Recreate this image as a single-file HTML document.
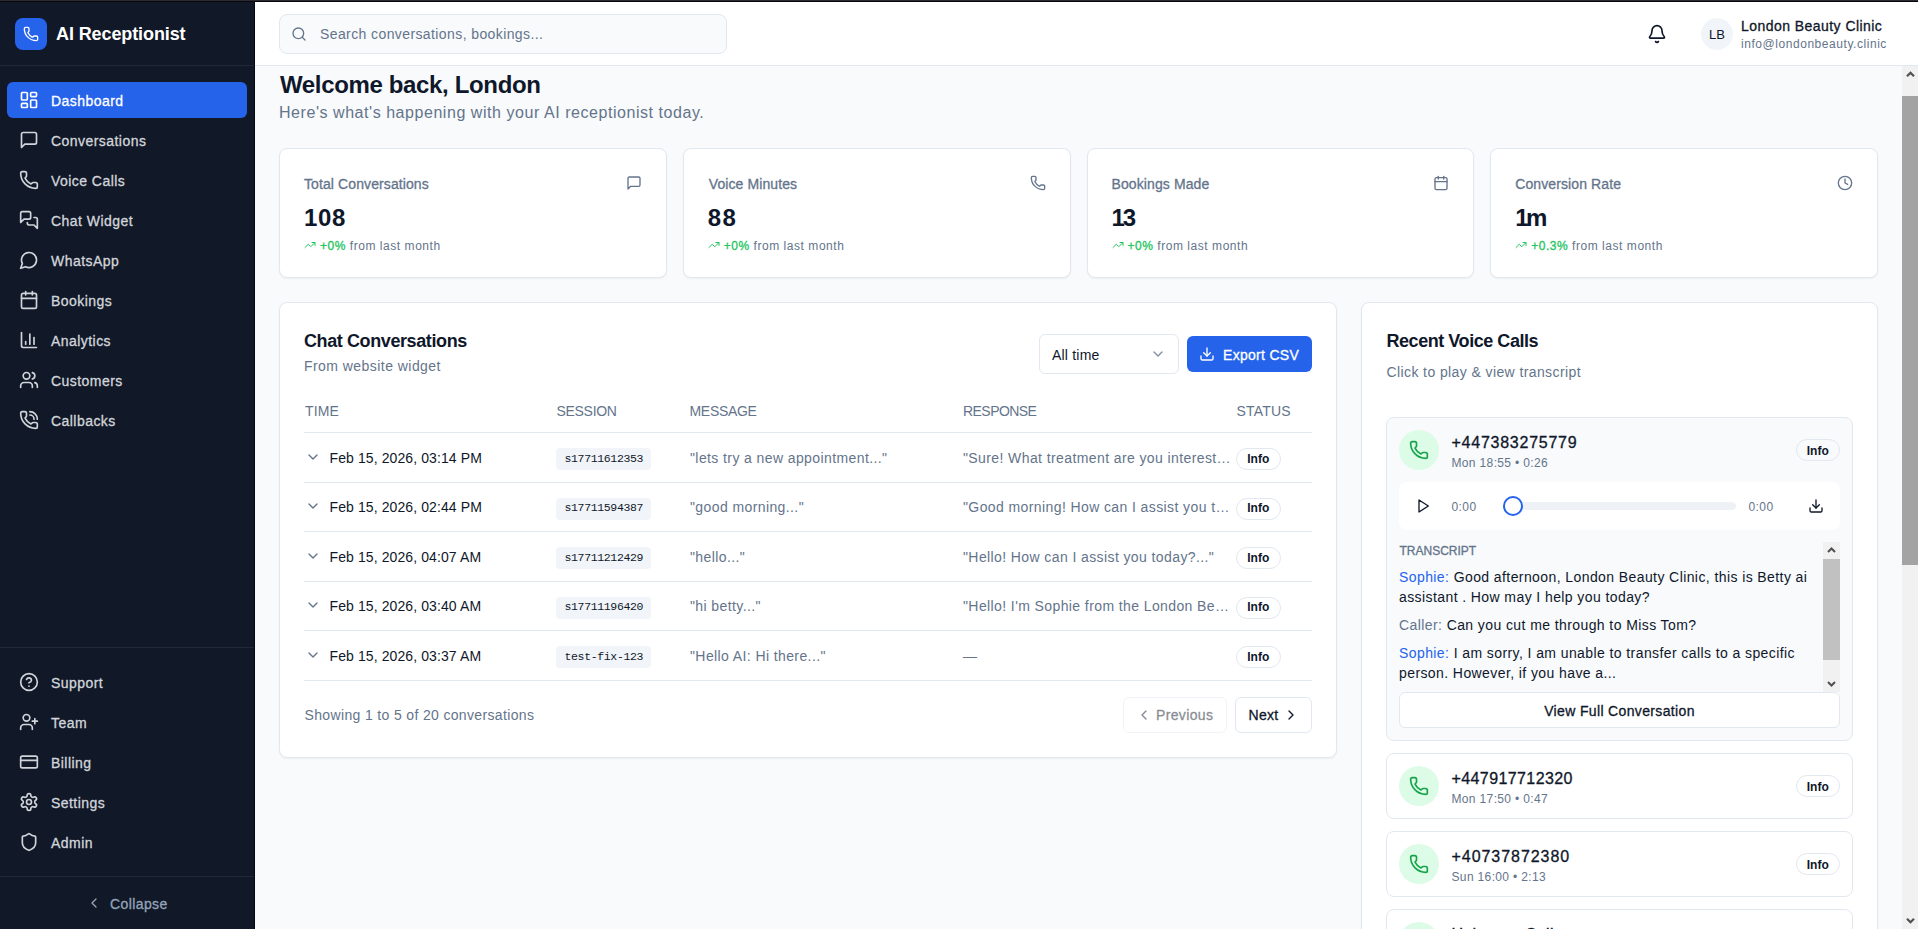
<!DOCTYPE html>
<html><head><meta charset="utf-8"><style>
*{box-sizing:border-box;margin:0;padding:0}
html,body{width:1918px;height:929px;overflow:hidden}
body{position:relative;background:#f8fafc;font-family:"Liberation Sans",sans-serif;color:#0f172a}
.abs{position:absolute}
.t{white-space:pre}
svg{display:block}
.ic{fill:none;stroke:currentColor;stroke-linecap:round;stroke-linejoin:round}
.box{position:absolute}
.m{-webkit-text-stroke-width:0.3px}
</style></head><body>
<div class="abs" style="left:0;top:0;width:1918px;height:1px;background:#2d2a35"></div>
<div class="abs" style="left:0;top:1px;width:1918px;height:1px;background:#070709"></div>
<div class="abs" style="left:0;top:2px;width:254px;height:927px;background:#111827"></div>
<div class="abs" style="left:254px;top:2px;width:1px;height:927px;background:#030712"></div>
<div class="abs" style="left:255px;top:2px;width:1663px;height:63px;background:#fff"></div>
<div class="abs" style="left:255px;top:65px;width:1663px;height:1px;background:#e2e8f0"></div>
<div class="abs" style="left:15px;top:18px;width:32px;height:32px;border-radius:8px;background:#2563eb"></div>
<svg class="abs ic" style="left:23px;top:26px;color:#fff" width="16" height="16" viewBox="0 0 24 24" stroke-width="2"><path d="M13.832 16.568a1 1 0 0 0 1.213-.303l.355-.465A2 2 0 0 1 17 15h3a2 2 0 0 1 2 2v3a2 2 0 0 1-2 2A18 18 0 0 1 2 4a2 2 0 0 1 2-2h3a2 2 0 0 1 2 2v3a2 2 0 0 1-.8 1.6l-.468.351a1 1 0 0 0-.292 1.233 14 14 0 0 0 6.392 6.384"/></svg>
<div class="abs t " style="left:56px;top:20px;font-size:18px;line-height:28px;color:#fff;font-weight:700;letter-spacing:-0.1px;">AI Receptionist</div>
<div class="abs" style="left:0;top:65px;width:254px;height:1px;background:#1f2937"></div>
<div class="abs" style="left:7px;top:82px;width:240px;height:36px;border-radius:6px;background:#2563eb"></div>
<svg class="abs ic" style="left:19px;top:90px;color:#ffffff" width="20" height="20" viewBox="0 0 24 24" stroke-width="2"><rect width="7" height="9" x="3" y="3" rx="1"/><rect width="7" height="5" x="14" y="3" rx="1"/><rect width="7" height="9" x="14" y="12" rx="1"/><rect width="7" height="5" x="3" y="16" rx="1"/></svg>
<div class="abs t m" style="left:51px;top:91px;font-size:14px;line-height:20px;color:#ffffff;font-weight:400;letter-spacing:0.45px;">Dashboard</div>
<svg class="abs ic" style="left:19px;top:130px;color:#d1d5db" width="20" height="20" viewBox="0 0 24 24" stroke-width="2"><path d="M21 15a2 2 0 0 1-2 2H7l-4 4V5a2 2 0 0 1 2-2h14a2 2 0 0 1 2 2z"/></svg>
<div class="abs t m" style="left:51px;top:131px;font-size:14px;line-height:20px;color:#d1d5db;font-weight:400;letter-spacing:0.45px;">Conversations</div>
<svg class="abs ic" style="left:19px;top:170px;color:#d1d5db" width="20" height="20" viewBox="0 0 24 24" stroke-width="2"><path d="M13.832 16.568a1 1 0 0 0 1.213-.303l.355-.465A2 2 0 0 1 17 15h3a2 2 0 0 1 2 2v3a2 2 0 0 1-2 2A18 18 0 0 1 2 4a2 2 0 0 1 2-2h3a2 2 0 0 1 2 2v3a2 2 0 0 1-.8 1.6l-.468.351a1 1 0 0 0-.292 1.233 14 14 0 0 0 6.392 6.384"/></svg>
<div class="abs t m" style="left:51px;top:171px;font-size:14px;line-height:20px;color:#d1d5db;font-weight:400;letter-spacing:0.45px;">Voice Calls</div>
<svg class="abs ic" style="left:19px;top:210px;color:#d1d5db" width="20" height="20" viewBox="0 0 24 24" stroke-width="2"><path d="M14 9a2 2 0 0 1-2 2H6l-4 4V4a2 2 0 0 1 2-2h8a2 2 0 0 1 2 2z"/><path d="M18 9h2a2 2 0 0 1 2 2v11l-4-4h-6a2 2 0 0 1-2-2v-1"/></svg>
<div class="abs t m" style="left:51px;top:211px;font-size:14px;line-height:20px;color:#d1d5db;font-weight:400;letter-spacing:0.45px;">Chat Widget</div>
<svg class="abs ic" style="left:19px;top:250px;color:#d1d5db" width="20" height="20" viewBox="0 0 24 24" stroke-width="2"><path d="M7.9 20A9 9 0 1 0 4 16.1L2 22Z"/></svg>
<div class="abs t m" style="left:51px;top:251px;font-size:14px;line-height:20px;color:#d1d5db;font-weight:400;letter-spacing:0.45px;">WhatsApp</div>
<svg class="abs ic" style="left:19px;top:290px;color:#d1d5db" width="20" height="20" viewBox="0 0 24 24" stroke-width="2"><path d="M8 2v4"/><path d="M16 2v4"/><rect width="18" height="18" x="3" y="4" rx="2"/><path d="M3 10h18"/></svg>
<div class="abs t m" style="left:51px;top:291px;font-size:14px;line-height:20px;color:#d1d5db;font-weight:400;letter-spacing:0.45px;">Bookings</div>
<svg class="abs ic" style="left:19px;top:330px;color:#d1d5db" width="20" height="20" viewBox="0 0 24 24" stroke-width="2"><path d="M3 3v16a2 2 0 0 0 2 2h16"/><path d="M18 17V9"/><path d="M13 17V5"/><path d="M8 17v-3"/></svg>
<div class="abs t m" style="left:51px;top:331px;font-size:14px;line-height:20px;color:#d1d5db;font-weight:400;letter-spacing:0.45px;">Analytics</div>
<svg class="abs ic" style="left:19px;top:370px;color:#d1d5db" width="20" height="20" viewBox="0 0 24 24" stroke-width="2"><path d="M16 21v-2a4 4 0 0 0-4-4H6a4 4 0 0 0-4 4v2"/><circle cx="9" cy="7" r="4"/><path d="M22 21v-2a4 4 0 0 0-3-3.87"/><path d="M16 3.13a4 4 0 0 1 0 7.75"/></svg>
<div class="abs t m" style="left:51px;top:371px;font-size:14px;line-height:20px;color:#d1d5db;font-weight:400;letter-spacing:0.45px;">Customers</div>
<svg class="abs ic" style="left:19px;top:410px;color:#d1d5db" width="20" height="20" viewBox="0 0 24 24" stroke-width="2"><path d="M13 2a9 9 0 0 1 9 9"/><path d="M13 6a5 5 0 0 1 5 5"/><path d="M13.832 16.568a1 1 0 0 0 1.213-.303l.355-.465A2 2 0 0 1 17 15h3a2 2 0 0 1 2 2v3a2 2 0 0 1-2 2A18 18 0 0 1 2 4a2 2 0 0 1 2-2h3a2 2 0 0 1 2 2v3a2 2 0 0 1-.8 1.6l-.468.351a1 1 0 0 0-.292 1.233 14 14 0 0 0 6.392 6.384"/></svg>
<div class="abs t m" style="left:51px;top:411px;font-size:14px;line-height:20px;color:#d1d5db;font-weight:400;letter-spacing:0.45px;">Callbacks</div>
<div class="abs" style="left:0;top:647px;width:254px;height:1px;background:#1f2937"></div>
<svg class="abs ic" style="left:19px;top:672px;color:#d1d5db" width="20" height="20" viewBox="0 0 24 24" stroke-width="2"><circle cx="12" cy="12" r="10"/><path d="M9.09 9a3 3 0 0 1 5.83 1c0 2-3 3-3 3"/><path d="M12 17h.01"/></svg>
<div class="abs t m" style="left:51px;top:673px;font-size:14px;line-height:20px;color:#d1d5db;font-weight:400;letter-spacing:0.45px;">Support</div>
<svg class="abs ic" style="left:19px;top:712px;color:#d1d5db" width="20" height="20" viewBox="0 0 24 24" stroke-width="2"><path d="M16 21v-2a4 4 0 0 0-4-4H6a4 4 0 0 0-4 4v2"/><circle cx="9" cy="7" r="4"/><line x1="19" x2="19" y1="8" y2="14"/><line x1="22" x2="16" y1="11" y2="11"/></svg>
<div class="abs t m" style="left:51px;top:713px;font-size:14px;line-height:20px;color:#d1d5db;font-weight:400;letter-spacing:0.45px;">Team</div>
<svg class="abs ic" style="left:19px;top:752px;color:#d1d5db" width="20" height="20" viewBox="0 0 24 24" stroke-width="2"><rect width="20" height="14" x="2" y="5" rx="2"/><line x1="2" x2="22" y1="10" y2="10"/></svg>
<div class="abs t m" style="left:51px;top:753px;font-size:14px;line-height:20px;color:#d1d5db;font-weight:400;letter-spacing:0.45px;">Billing</div>
<svg class="abs ic" style="left:19px;top:792px;color:#d1d5db" width="20" height="20" viewBox="0 0 24 24" stroke-width="2"><path d="M12.22 2h-.44a2 2 0 0 0-2 2v.18a2 2 0 0 1-1 1.73l-.43.25a2 2 0 0 1-2 0l-.15-.08a2 2 0 0 0-2.73.73l-.22.38a2 2 0 0 0 .73 2.73l.15.1a2 2 0 0 1 1 1.72v.51a2 2 0 0 1-1 1.74l-.15.09a2 2 0 0 0-.73 2.73l.22.38a2 2 0 0 0 2.73.73l.15-.08a2 2 0 0 1 2 0l.43.25a2 2 0 0 1 1 1.73V20a2 2 0 0 0 2 2h.44a2 2 0 0 0 2-2v-.18a2 2 0 0 1 1-1.73l.43-.25a2 2 0 0 1 2 0l.15.08a2 2 0 0 0 2.73-.73l.22-.39a2 2 0 0 0-.73-2.73l-.15-.08a2 2 0 0 1-1-1.74v-.5a2 2 0 0 1 1-1.74l.15-.09a2 2 0 0 0 .73-2.73l-.22-.38a2 2 0 0 0-2.73-.73l-.15.08a2 2 0 0 1-2 0l-.43-.25a2 2 0 0 1-1-1.73V4a2 2 0 0 0-2-2z"/><circle cx="12" cy="12" r="3"/></svg>
<div class="abs t m" style="left:51px;top:793px;font-size:14px;line-height:20px;color:#d1d5db;font-weight:400;letter-spacing:0.45px;">Settings</div>
<svg class="abs ic" style="left:19px;top:832px;color:#d1d5db" width="20" height="20" viewBox="0 0 24 24" stroke-width="2"><path d="M20 13c0 5-3.5 7.5-7.66 8.95a1 1 0 0 1-.67-.01C7.5 20.5 4 18 4 13V6a1 1 0 0 1 1-1c2 0 4.5-1.2 6.24-2.72a1.17 1.17 0 0 1 1.52 0C14.51 3.81 17 5 19 5a1 1 0 0 1 1 1z"/></svg>
<div class="abs t m" style="left:51px;top:833px;font-size:14px;line-height:20px;color:#d1d5db;font-weight:400;letter-spacing:0.45px;">Admin</div>
<div class="abs" style="left:0;top:876px;width:254px;height:1px;background:#1f2937"></div>
<svg class="abs ic" style="left:86px;top:895px;color:#94a3b8" width="16" height="16" viewBox="0 0 24 24" stroke-width="2"><path d="m15 18-6-6 6-6"/></svg>
<div class="abs t m" style="left:110px;top:894px;font-size:14px;line-height:20px;color:#94a3b8;font-weight:400;letter-spacing:0.4px;">Collapse</div>
<div class="abs" style="left:279px;top:14px;width:448px;height:40px;border-radius:8px;background:#f8fafc;border:1px solid #e2e8f0"></div>
<svg class="abs ic" style="left:291px;top:26px;color:#64748b" width="16" height="16" viewBox="0 0 24 24" stroke-width="2"><circle cx="11" cy="11" r="8"/><path d="m21 21-4.3-4.3"/></svg>
<div class="abs t " style="left:320px;top:24px;font-size:14px;line-height:20px;color:#64748b;font-weight:400;letter-spacing:0.4px;">Search conversations, bookings...</div>
<svg class="abs ic" style="left:1647px;top:24px;color:#0f172a" width="20" height="20" viewBox="0 0 24 24" stroke-width="2"><path d="M10.268 21a2 2 0 0 0 3.464 0"/><path d="M3.262 15.326A1 1 0 0 0 4 17h16a1 1 0 0 0 .74-1.673C19.41 13.956 18 12.499 18 8A6 6 0 0 0 6 8c0 4.499-1.411 5.956-2.738 7.326"/></svg>
<div class="abs" style="left:1701px;top:18px;width:32px;height:32px;border-radius:50%;background:#f1f5f9"></div>
<div class="abs t " style="left:1701px;top:25px;font-size:13px;line-height:20px;color:#0f172a;font-weight:400;letter-spacing:0px;width:32px;text-align:center">LB</div>
<div class="abs t m" style="left:1741px;top:16px;font-size:14px;line-height:20px;color:#0f172a;font-weight:400;letter-spacing:0.45px;">London Beauty Clinic</div>
<div class="abs t " style="left:1741px;top:36px;font-size:12px;line-height:16px;color:#64748b;font-weight:400;letter-spacing:0.55px;">info@londonbeauty.clinic</div>
<div class="abs t " style="left:280px;top:69px;font-size:24px;line-height:32px;color:#0f172a;font-weight:700;letter-spacing:-0.35px;">Welcome back, London</div>
<div class="abs t " style="left:279px;top:101px;font-size:16px;line-height:24px;color:#64748b;font-weight:400;letter-spacing:0.55px;">Here's what's happening with your AI receptionist today.</div>
<div class="abs" style="left:279.0px;top:148px;width:387.75px;height:130px;background:#fff;border:1px solid #e2e8f0;border-radius:8px;box-shadow:0 1px 2px rgba(0,0,0,0.05)"></div>
<div class="abs t m" style="left:304.0px;top:174px;font-size:14px;line-height:20px;color:#64748b;font-weight:400;letter-spacing:0.1px;">Total Conversations</div>
<svg class="abs ic" style="left:625.75px;top:175px;color:#64748b" width="16" height="16" viewBox="0 0 24 24" stroke-width="2"><path d="M21 15a2 2 0 0 1-2 2H7l-4 4V5a2 2 0 0 1 2-2h14a2 2 0 0 1 2 2z"/></svg>
<div class="abs t " style="left:304.0px;top:202px;font-size:24px;line-height:32px;color:#0f172a;font-weight:700;letter-spacing:0.7px;">108</div>
<svg class="abs ic" style="left:304.0px;top:239px;color:#22c55e" width="12" height="12" viewBox="0 0 24 24" stroke-width="2"><polyline points="22 7 13.5 15.5 8.5 10.5 2 17"/><polyline points="16 7 22 7 22 13"/></svg>
<div class="abs t" style="left:320.0px;top:238px;font-size:12px;line-height:16px;color:#64748b;letter-spacing:0.55px"><span class="m" style="color:#22c55e;letter-spacing:0.5px">+0%</span> from last month</div>
<div class="abs" style="left:682.75px;top:148px;width:387.75px;height:130px;background:#fff;border:1px solid #e2e8f0;border-radius:8px;box-shadow:0 1px 2px rgba(0,0,0,0.05)"></div>
<div class="abs t m" style="left:708.75px;top:174px;font-size:14px;line-height:20px;color:#64748b;font-weight:400;letter-spacing:0.1px;">Voice Minutes</div>
<svg class="abs ic" style="left:1029.5px;top:175px;color:#64748b" width="16" height="16" viewBox="0 0 24 24" stroke-width="2"><path d="M13.832 16.568a1 1 0 0 0 1.213-.303l.355-.465A2 2 0 0 1 17 15h3a2 2 0 0 1 2 2v3a2 2 0 0 1-2 2A18 18 0 0 1 2 4a2 2 0 0 1 2-2h3a2 2 0 0 1 2 2v3a2 2 0 0 1-.8 1.6l-.468.351a1 1 0 0 0-.292 1.233 14 14 0 0 0 6.392 6.384"/></svg>
<div class="abs t " style="left:707.75px;top:202px;font-size:24px;line-height:32px;color:#0f172a;font-weight:700;letter-spacing:1.5px;">88</div>
<svg class="abs ic" style="left:707.75px;top:239px;color:#22c55e" width="12" height="12" viewBox="0 0 24 24" stroke-width="2"><polyline points="22 7 13.5 15.5 8.5 10.5 2 17"/><polyline points="16 7 22 7 22 13"/></svg>
<div class="abs t" style="left:723.75px;top:238px;font-size:12px;line-height:16px;color:#64748b;letter-spacing:0.55px"><span class="m" style="color:#22c55e;letter-spacing:0.5px">+0%</span> from last month</div>
<div class="abs" style="left:1086.5px;top:148px;width:387.75px;height:130px;background:#fff;border:1px solid #e2e8f0;border-radius:8px;box-shadow:0 1px 2px rgba(0,0,0,0.05)"></div>
<div class="abs t m" style="left:1111.5px;top:174px;font-size:14px;line-height:20px;color:#64748b;font-weight:400;letter-spacing:0.1px;">Bookings Made</div>
<svg class="abs ic" style="left:1433.25px;top:175px;color:#64748b" width="16" height="16" viewBox="0 0 24 24" stroke-width="2"><path d="M8 2v4"/><path d="M16 2v4"/><rect width="18" height="18" x="3" y="4" rx="2"/><path d="M3 10h18"/></svg>
<div class="abs t " style="left:1111.5px;top:202px;font-size:24px;line-height:32px;color:#0f172a;font-weight:700;letter-spacing:-2px;">13</div>
<svg class="abs ic" style="left:1111.5px;top:239px;color:#22c55e" width="12" height="12" viewBox="0 0 24 24" stroke-width="2"><polyline points="22 7 13.5 15.5 8.5 10.5 2 17"/><polyline points="16 7 22 7 22 13"/></svg>
<div class="abs t" style="left:1127.5px;top:238px;font-size:12px;line-height:16px;color:#64748b;letter-spacing:0.55px"><span class="m" style="color:#22c55e;letter-spacing:0.5px">+0%</span> from last month</div>
<div class="abs" style="left:1490.25px;top:148px;width:387.75px;height:130px;background:#fff;border:1px solid #e2e8f0;border-radius:8px;box-shadow:0 1px 2px rgba(0,0,0,0.05)"></div>
<div class="abs t m" style="left:1515.25px;top:174px;font-size:14px;line-height:20px;color:#64748b;font-weight:400;letter-spacing:0.1px;">Conversion Rate</div>
<svg class="abs ic" style="left:1837.0px;top:175px;color:#64748b" width="16" height="16" viewBox="0 0 24 24" stroke-width="2"><circle cx="12" cy="12" r="10"/><polyline points="12 6 12 12 16 14"/></svg>
<div class="abs t " style="left:1515.25px;top:202px;font-size:24px;line-height:32px;color:#0f172a;font-weight:700;letter-spacing:-2.5px;">1m</div>
<svg class="abs ic" style="left:1515.25px;top:239px;color:#22c55e" width="12" height="12" viewBox="0 0 24 24" stroke-width="2"><polyline points="22 7 13.5 15.5 8.5 10.5 2 17"/><polyline points="16 7 22 7 22 13"/></svg>
<div class="abs t" style="left:1531.25px;top:238px;font-size:12px;line-height:16px;color:#64748b;letter-spacing:0.55px"><span class="m" style="color:#22c55e;letter-spacing:0.5px">+0.3%</span> from last month</div>
<div class="abs" style="left:279px;top:302px;width:1058px;height:456px;background:#fff;border:1px solid #e2e8f0;border-radius:8px;box-shadow:0 1px 2px rgba(0,0,0,0.05)"></div>
<div class="abs t " style="left:304px;top:327px;font-size:18px;line-height:28px;color:#0f172a;font-weight:700;letter-spacing:-0.4px;">Chat Conversations</div>
<div class="abs t " style="left:304px;top:356px;font-size:14px;line-height:20px;color:#64748b;font-weight:400;letter-spacing:0.45px;">From website widget</div>
<div class="abs" style="left:1039px;top:334px;width:140px;height:40px;background:#fff;border:1px solid #e2e8f0;border-radius:6px"></div>
<div class="abs t " style="left:1052px;top:345px;font-size:14px;line-height:20px;color:#0f172a;font-weight:400;letter-spacing:0.2px;">All time</div>
<svg class="abs ic" style="left:1150px;top:346px;color:#64748b;opacity:0.8" width="16" height="16" viewBox="0 0 24 24" stroke-width="2"><path d="m6 9 6 6 6-6"/></svg>
<div class="abs" style="left:1187px;top:336px;width:125px;height:36px;background:#2563eb;border-radius:6px"></div>
<svg class="abs ic" style="left:1199px;top:346px;color:#fff" width="16" height="16" viewBox="0 0 24 24" stroke-width="2"><path d="M21 15v4a2 2 0 0 1-2 2H5a2 2 0 0 1-2-2v-4"/><polyline points="7 10 12 15 17 10"/><line x1="12" x2="12" y1="15" y2="3"/></svg>
<div class="abs t m" style="left:1223px;top:345px;font-size:14px;line-height:20px;color:#fff;font-weight:400;letter-spacing:0.3px;">Export CSV</div>
<div class="abs t " style="left:305px;top:400.5px;font-size:14px;line-height:20px;color:#64748b;font-weight:400;letter-spacing:0.15px;">TIME</div>
<div class="abs t " style="left:556.5px;top:400.5px;font-size:14px;line-height:20px;color:#64748b;font-weight:400;letter-spacing:-0.3px;">SESSION</div>
<div class="abs t " style="left:689.5px;top:400.5px;font-size:14px;line-height:20px;color:#64748b;font-weight:400;letter-spacing:-0.3px;">MESSAGE</div>
<div class="abs t " style="left:963px;top:400.5px;font-size:14px;line-height:20px;color:#64748b;font-weight:400;letter-spacing:-0.55px;">RESPONSE</div>
<div class="abs t " style="left:1236.5px;top:400.5px;font-size:14px;line-height:20px;color:#64748b;font-weight:400;letter-spacing:0.2px;">STATUS</div>
<div class="abs" style="left:304px;top:432px;width:1008px;height:1px;background:#e2e8f0"></div>
<svg class="abs ic" style="left:305px;top:448.5px;color:#64748b" width="16" height="16" viewBox="0 0 24 24" stroke-width="2"><path d="m6 9 6 6 6-6"/></svg>
<div class="abs t " style="left:329.5px;top:448px;font-size:14px;line-height:20px;color:#0f172a;font-weight:400;letter-spacing:0.1px;">Feb 15, 2026, 03:14 PM</div>
<div class="abs" style="left:556px;top:448.0px;width:95px;height:22px;background:#f1f5f9;border-radius:4px"></div>
<div class="abs t " style="left:564.5px;top:451px;font-size:11.5px;line-height:16px;color:#0f172a;font-weight:400;letter-spacing:0px;font-family:'Liberation Mono',monospace;letter-spacing:-0.35px">s17711612353</div>
<div class="abs t " style="left:690px;top:448px;font-size:14px;line-height:20px;color:#64748b;font-weight:400;letter-spacing:0.4px;">"lets try a new appointment..."</div>
<div class="abs t " style="left:963px;top:448px;font-size:14px;line-height:20px;color:#64748b;font-weight:400;letter-spacing:0.4px;">"Sure! What treatment are you interest…</div>
<div class="abs" style="left:1236px;top:448.0px;width:44.5px;height:22px;background:#fff;border:1px solid #e2e8f0;border-radius:11px"></div>
<div class="abs t " style="left:1236px;top:451px;font-size:12px;line-height:16px;color:#0f172a;font-weight:700;letter-spacing:0px;width:44.5px;text-align:center">Info</div>
<div class="abs" style="left:304px;top:481.5px;width:1008px;height:1px;background:#e2e8f0"></div>
<svg class="abs ic" style="left:305px;top:498.0px;color:#64748b" width="16" height="16" viewBox="0 0 24 24" stroke-width="2"><path d="m6 9 6 6 6-6"/></svg>
<div class="abs t " style="left:329.5px;top:497px;font-size:14px;line-height:20px;color:#0f172a;font-weight:400;letter-spacing:0.1px;">Feb 15, 2026, 02:44 PM</div>
<div class="abs" style="left:556px;top:497.5px;width:95px;height:22px;background:#f1f5f9;border-radius:4px"></div>
<div class="abs t " style="left:564.5px;top:500px;font-size:11.5px;line-height:16px;color:#0f172a;font-weight:400;letter-spacing:0px;font-family:'Liberation Mono',monospace;letter-spacing:-0.35px">s17711594387</div>
<div class="abs t " style="left:690px;top:497px;font-size:14px;line-height:20px;color:#64748b;font-weight:400;letter-spacing:0.4px;">"good morning..."</div>
<div class="abs t " style="left:963px;top:497px;font-size:14px;line-height:20px;color:#64748b;font-weight:400;letter-spacing:0.4px;">"Good morning! How can I assist you t…</div>
<div class="abs" style="left:1236px;top:497.5px;width:44.5px;height:22px;background:#fff;border:1px solid #e2e8f0;border-radius:11px"></div>
<div class="abs t " style="left:1236px;top:500px;font-size:12px;line-height:16px;color:#0f172a;font-weight:700;letter-spacing:0px;width:44.5px;text-align:center">Info</div>
<div class="abs" style="left:304px;top:531.0px;width:1008px;height:1px;background:#e2e8f0"></div>
<svg class="abs ic" style="left:305px;top:547.5px;color:#64748b" width="16" height="16" viewBox="0 0 24 24" stroke-width="2"><path d="m6 9 6 6 6-6"/></svg>
<div class="abs t " style="left:329.5px;top:547px;font-size:14px;line-height:20px;color:#0f172a;font-weight:400;letter-spacing:0.1px;">Feb 15, 2026, 04:07 AM</div>
<div class="abs" style="left:556px;top:547.0px;width:95px;height:22px;background:#f1f5f9;border-radius:4px"></div>
<div class="abs t " style="left:564.5px;top:550px;font-size:11.5px;line-height:16px;color:#0f172a;font-weight:400;letter-spacing:0px;font-family:'Liberation Mono',monospace;letter-spacing:-0.35px">s17711212429</div>
<div class="abs t " style="left:690px;top:547px;font-size:14px;line-height:20px;color:#64748b;font-weight:400;letter-spacing:0.4px;">"hello..."</div>
<div class="abs t " style="left:963px;top:547px;font-size:14px;line-height:20px;color:#64748b;font-weight:400;letter-spacing:0.4px;">"Hello! How can I assist you today?..."</div>
<div class="abs" style="left:1236px;top:547.0px;width:44.5px;height:22px;background:#fff;border:1px solid #e2e8f0;border-radius:11px"></div>
<div class="abs t " style="left:1236px;top:550px;font-size:12px;line-height:16px;color:#0f172a;font-weight:700;letter-spacing:0px;width:44.5px;text-align:center">Info</div>
<div class="abs" style="left:304px;top:580.5px;width:1008px;height:1px;background:#e2e8f0"></div>
<svg class="abs ic" style="left:305px;top:597.0px;color:#64748b" width="16" height="16" viewBox="0 0 24 24" stroke-width="2"><path d="m6 9 6 6 6-6"/></svg>
<div class="abs t " style="left:329.5px;top:596px;font-size:14px;line-height:20px;color:#0f172a;font-weight:400;letter-spacing:0.1px;">Feb 15, 2026, 03:40 AM</div>
<div class="abs" style="left:556px;top:596.5px;width:95px;height:22px;background:#f1f5f9;border-radius:4px"></div>
<div class="abs t " style="left:564.5px;top:599px;font-size:11.5px;line-height:16px;color:#0f172a;font-weight:400;letter-spacing:0px;font-family:'Liberation Mono',monospace;letter-spacing:-0.35px">s17711196420</div>
<div class="abs t " style="left:690px;top:596px;font-size:14px;line-height:20px;color:#64748b;font-weight:400;letter-spacing:0.4px;">"hi betty..."</div>
<div class="abs t " style="left:963px;top:596px;font-size:14px;line-height:20px;color:#64748b;font-weight:400;letter-spacing:0.4px;">"Hello! I'm Sophie from the London Be…</div>
<div class="abs" style="left:1236px;top:596.5px;width:44.5px;height:22px;background:#fff;border:1px solid #e2e8f0;border-radius:11px"></div>
<div class="abs t " style="left:1236px;top:599px;font-size:12px;line-height:16px;color:#0f172a;font-weight:700;letter-spacing:0px;width:44.5px;text-align:center">Info</div>
<div class="abs" style="left:304px;top:630.0px;width:1008px;height:1px;background:#e2e8f0"></div>
<svg class="abs ic" style="left:305px;top:646.5px;color:#64748b" width="16" height="16" viewBox="0 0 24 24" stroke-width="2"><path d="m6 9 6 6 6-6"/></svg>
<div class="abs t " style="left:329.5px;top:646px;font-size:14px;line-height:20px;color:#0f172a;font-weight:400;letter-spacing:0.1px;">Feb 15, 2026, 03:37 AM</div>
<div class="abs" style="left:556px;top:646.0px;width:95px;height:22px;background:#f1f5f9;border-radius:4px"></div>
<div class="abs t " style="left:564.5px;top:649px;font-size:11.5px;line-height:16px;color:#0f172a;font-weight:400;letter-spacing:0px;font-family:'Liberation Mono',monospace;letter-spacing:-0.35px">test-fix-123</div>
<div class="abs t " style="left:690px;top:646px;font-size:14px;line-height:20px;color:#64748b;font-weight:400;letter-spacing:0.4px;">"Hello AI: Hi there..."</div>
<div class="abs t " style="left:963px;top:646px;font-size:14px;line-height:20px;color:#64748b;font-weight:400;letter-spacing:0.4px;">—</div>
<div class="abs" style="left:1236px;top:646.0px;width:44.5px;height:22px;background:#fff;border:1px solid #e2e8f0;border-radius:11px"></div>
<div class="abs t " style="left:1236px;top:649px;font-size:12px;line-height:16px;color:#0f172a;font-weight:700;letter-spacing:0px;width:44.5px;text-align:center">Info</div>
<div class="abs" style="left:304px;top:679.5px;width:1008px;height:1px;background:#e2e8f0"></div>
<div class="abs t " style="left:304.5px;top:705px;font-size:14px;line-height:20px;color:#64748b;font-weight:400;letter-spacing:0.35px;">Showing 1 to 5 of 20 conversations</div>
<div class="abs" style="left:1123px;top:697px;width:104px;height:36px;background:#fff;border:1px solid #e2e8f0;border-radius:6px;opacity:0.5"></div>
<svg class="abs ic" style="left:1136px;top:707px;color:#0f172a;opacity:0.5" width="16" height="16" viewBox="0 0 24 24" stroke-width="2"><path d="m15 18-6-6 6-6"/></svg>
<div class="abs t m" style="left:1156px;top:705px;font-size:14px;line-height:20px;color:#0f172a;font-weight:400;letter-spacing:0.35px;opacity:0.5">Previous</div>
<div class="abs" style="left:1235px;top:697px;width:77px;height:36px;background:#fff;border:1px solid #e2e8f0;border-radius:6px"></div>
<div class="abs t m" style="left:1248.5px;top:705px;font-size:14px;line-height:20px;color:#0f172a;font-weight:400;letter-spacing:0.3px;">Next</div>
<svg class="abs ic" style="left:1283px;top:707px;color:#0f172a" width="16" height="16" viewBox="0 0 24 24" stroke-width="2"><path d="m9 18 6-6-6-6"/></svg>
<div class="abs" style="left:1361px;top:302px;width:517px;height:700px;background:#fff;border:1px solid #e2e8f0;border-radius:8px;box-shadow:0 1px 2px rgba(0,0,0,0.05)"></div>
<div class="abs t " style="left:1386.5px;top:327px;font-size:18px;line-height:28px;color:#0f172a;font-weight:700;letter-spacing:-0.45px;">Recent Voice Calls</div>
<div class="abs t " style="left:1386.5px;top:362px;font-size:14px;line-height:20px;color:#64748b;font-weight:400;letter-spacing:0.4px;">Click to play &amp; view transcript</div>
<div class="abs" style="left:1386px;top:417px;width:467px;height:323.5px;background:#f8fafc;border:1px solid #e2e8f0;border-radius:8px"></div>
<div class="abs" style="left:1399px;top:429.5px;width:40px;height:40px;border-radius:50%;background:#dcfce7"></div>
<svg class="abs ic" style="left:1409px;top:439.5px;color:#16a34a" width="20" height="20" viewBox="0 0 24 24" stroke-width="2"><path d="M13.832 16.568a1 1 0 0 0 1.213-.303l.355-.465A2 2 0 0 1 17 15h3a2 2 0 0 1 2 2v3a2 2 0 0 1-2 2A18 18 0 0 1 2 4a2 2 0 0 1 2-2h3a2 2 0 0 1 2 2v3a2 2 0 0 1-.8 1.6l-.468.351a1 1 0 0 0-.292 1.233 14 14 0 0 0 6.392 6.384"/></svg>
<div class="abs t m" style="left:1451.5px;top:430.5px;font-size:16px;line-height:24px;color:#0f172a;font-weight:400;letter-spacing:0.75px;">+447383275779</div>
<div class="abs t " style="left:1451.5px;top:454.5px;font-size:12px;line-height:16px;color:#64748b;font-weight:400;letter-spacing:0.35px;">Mon 18:55 • 0:26</div>
<div class="abs" style="left:1796px;top:438.5px;width:43.5px;height:22px;border:1px solid #e2e8f0;border-radius:11px"></div>
<div class="abs t " style="left:1796px;top:442.5px;font-size:12px;line-height:16px;color:#0f172a;font-weight:700;letter-spacing:0px;width:43.5px;text-align:center">Info</div>
<div class="abs" style="left:1399px;top:482px;width:441px;height:48px;background:#fff;border-radius:8px"></div>
<svg class="abs ic" style="left:1415px;top:498px;color:#0f172a" width="16" height="16" viewBox="0 0 24 24" stroke-width="2"><polygon points="6 3 20 12 6 21 6 3"/></svg>
<div class="abs t " style="left:1451.5px;top:499px;font-size:12px;line-height:16px;color:#64748b;font-weight:400;letter-spacing:0.4px;">0:00</div>
<div class="abs" style="left:1503px;top:502px;width:233px;height:8px;background:#eef2f7;border-radius:4px"></div>
<div class="abs" style="left:1503px;top:496px;width:20px;height:20px;background:#fff;border:2.5px solid #2563eb;border-radius:50%"></div>
<div class="abs t " style="left:1748.5px;top:499px;font-size:12px;line-height:16px;color:#64748b;font-weight:400;letter-spacing:0.4px;">0:00</div>
<svg class="abs ic" style="left:1808px;top:498px;color:#0f172a" width="16" height="16" viewBox="0 0 24 24" stroke-width="2"><path d="M21 15v4a2 2 0 0 1-2 2H5a2 2 0 0 1-2-2v-4"/><polyline points="7 10 12 15 17 10"/><line x1="12" x2="12" y1="15" y2="3"/></svg>
<div class="abs t m" style="left:1399.5px;top:543px;font-size:12px;line-height:16px;color:#64748b;font-weight:400;letter-spacing:0px;">TRANSCRIPT</div>
<div class="abs" style="left:1399px;top:542px;width:424px;height:150px;overflow:hidden"><div style="position:absolute;left:0;top:25px;width:418px;font-size:14px;line-height:20px;color:#0f172a;letter-spacing:0.41px"><p><span style="color:#2563eb">Sophie:</span> Good afternoon, London Beauty Clinic, this is Betty ai assistant . How may I help you today?</p><p style="margin-top:8px"><span style="color:#64748b">Caller:</span> Can you cut me through to Miss Tom?</p><p style="margin-top:8px"><span style="color:#2563eb">Sophie:</span> I am sorry, I am unable to transfer calls to a specific person. However, if you have a...</p></div></div>
<div class="abs" style="left:1823px;top:542px;width:17px;height:150px;background:#f1f1f1"></div>
<div class="abs" style="left:1823px;top:559px;width:17px;height:101px;background:#c1c1c1"></div>
<svg class="abs" style="left:1823px;top:542px" width="17" height="17" viewBox="0 0 17 17"><polyline points="5,10 8.5,6.5 12,10" fill="none" stroke="#505050" stroke-width="2"/></svg>
<svg class="abs" style="left:1823px;top:675px" width="17" height="17" viewBox="0 0 17 17"><polyline points="5,7 8.5,10.5 12,7" fill="none" stroke="#505050" stroke-width="2"/></svg>
<div class="abs" style="left:1399px;top:692px;width:441px;height:36px;background:#fff;border:1px solid #e2e8f0;border-radius:6px"></div>
<div class="abs t m" style="left:1399px;top:701px;font-size:14px;line-height:20px;color:#0f172a;font-weight:400;letter-spacing:0.35px;width:441px;text-align:center">View Full Conversation</div>
<div class="abs" style="left:1386px;top:753px;width:467px;height:65.5px;background:#fff;border:1px solid #e2e8f0;border-radius:8px"></div>
<div class="abs" style="left:1399px;top:765.5px;width:40px;height:40px;border-radius:50%;background:#dcfce7"></div>
<svg class="abs ic" style="left:1409px;top:775.5px;color:#16a34a" width="20" height="20" viewBox="0 0 24 24" stroke-width="2"><path d="M13.832 16.568a1 1 0 0 0 1.213-.303l.355-.465A2 2 0 0 1 17 15h3a2 2 0 0 1 2 2v3a2 2 0 0 1-2 2A18 18 0 0 1 2 4a2 2 0 0 1 2-2h3a2 2 0 0 1 2 2v3a2 2 0 0 1-.8 1.6l-.468.351a1 1 0 0 0-.292 1.233 14 14 0 0 0 6.392 6.384"/></svg>
<div class="abs t m" style="left:1451.5px;top:766.5px;font-size:16px;line-height:24px;color:#0f172a;font-weight:400;letter-spacing:0.4px;">+447917712320</div>
<div class="abs t " style="left:1451.5px;top:790.5px;font-size:12px;line-height:16px;color:#64748b;font-weight:400;letter-spacing:0.35px;">Mon 17:50 • 0:47</div>
<div class="abs" style="left:1796px;top:774.5px;width:43.5px;height:22px;border:1px solid #e2e8f0;border-radius:11px"></div>
<div class="abs t " style="left:1796px;top:778.5px;font-size:12px;line-height:16px;color:#0f172a;font-weight:700;letter-spacing:0px;width:43.5px;text-align:center">Info</div>
<div class="abs" style="left:1386px;top:831px;width:467px;height:65.5px;background:#fff;border:1px solid #e2e8f0;border-radius:8px"></div>
<div class="abs" style="left:1399px;top:843.5px;width:40px;height:40px;border-radius:50%;background:#dcfce7"></div>
<svg class="abs ic" style="left:1409px;top:853.5px;color:#16a34a" width="20" height="20" viewBox="0 0 24 24" stroke-width="2"><path d="M13.832 16.568a1 1 0 0 0 1.213-.303l.355-.465A2 2 0 0 1 17 15h3a2 2 0 0 1 2 2v3a2 2 0 0 1-2 2A18 18 0 0 1 2 4a2 2 0 0 1 2-2h3a2 2 0 0 1 2 2v3a2 2 0 0 1-.8 1.6l-.468.351a1 1 0 0 0-.292 1.233 14 14 0 0 0 6.392 6.384"/></svg>
<div class="abs t m" style="left:1451.5px;top:844.5px;font-size:16px;line-height:24px;color:#0f172a;font-weight:400;letter-spacing:0.95px;">+40737872380</div>
<div class="abs t " style="left:1451.5px;top:868.5px;font-size:12px;line-height:16px;color:#64748b;font-weight:400;letter-spacing:0.35px;">Sun 16:00 • 2:13</div>
<div class="abs" style="left:1796px;top:852.5px;width:43.5px;height:22px;border:1px solid #e2e8f0;border-radius:11px"></div>
<div class="abs t " style="left:1796px;top:856.5px;font-size:12px;line-height:16px;color:#0f172a;font-weight:700;letter-spacing:0px;width:43.5px;text-align:center">Info</div>
<div class="abs" style="left:1386px;top:909px;width:467px;height:65.5px;background:#fff;border:1px solid #e2e8f0;border-radius:8px"></div>
<div class="abs" style="left:1399px;top:921.5px;width:40px;height:40px;border-radius:50%;background:#dcfce7"></div>
<svg class="abs ic" style="left:1409px;top:931.5px;color:#16a34a" width="20" height="20" viewBox="0 0 24 24" stroke-width="2"><path d="M13.832 16.568a1 1 0 0 0 1.213-.303l.355-.465A2 2 0 0 1 17 15h3a2 2 0 0 1 2 2v3a2 2 0 0 1-2 2A18 18 0 0 1 2 4a2 2 0 0 1 2-2h3a2 2 0 0 1 2 2v3a2 2 0 0 1-.8 1.6l-.468.351a1 1 0 0 0-.292 1.233 14 14 0 0 0 6.392 6.384"/></svg>
<div class="abs t m" style="left:1451.5px;top:922.5px;font-size:16px;line-height:24px;color:#0f172a;font-weight:400;letter-spacing:0.3px;">Unknown Caller</div>
<div class="abs t " style="left:1451.5px;top:946.5px;font-size:12px;line-height:16px;color:#64748b;font-weight:400;letter-spacing:0.35px;"></div>
<div class="abs" style="left:1796px;top:930.5px;width:43.5px;height:22px;border:1px solid #e2e8f0;border-radius:11px"></div>
<div class="abs t " style="left:1796px;top:934.5px;font-size:12px;line-height:16px;color:#0f172a;font-weight:700;letter-spacing:0px;width:43.5px;text-align:center">Info</div>
<div class="abs" style="left:1902px;top:66px;width:16px;height:863px;background:#f1f1f1"></div>
<div class="abs" style="left:1902px;top:96px;width:16px;height:469px;background:#a3a3a3"></div>
<svg class="abs" style="left:1902px;top:66px" width="16" height="16" viewBox="0 0 16 16"><polyline points="5,10.3 8.5,6.8 12,10.3" fill="none" stroke="#505050" stroke-width="2.2"/></svg>
<svg class="abs" style="left:1902px;top:913px" width="16" height="16" viewBox="0 0 16 16"><polyline points="5,5.7 8.5,9.2 12,5.7" fill="none" stroke="#505050" stroke-width="2.2"/></svg>
</body></html>
